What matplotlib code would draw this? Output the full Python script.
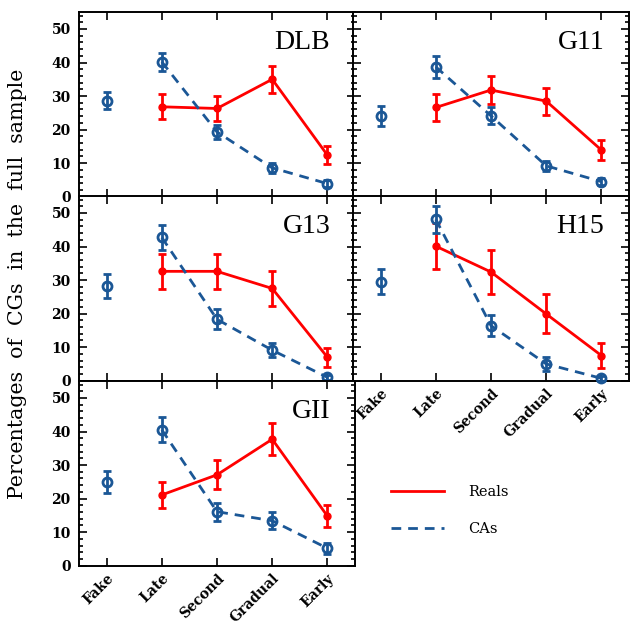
import matplotlib
matplotlib.use("Agg")
import matplotlib.pyplot as plt
from matplotlib.ticker import MultipleLocator
from matplotlib.lines import Line2D

categories = ["Fake", "Late", "Second", "Gradual", "Early"]
panels = ["DLB", "G11", "G13", "H15", "GII"]

# Reals: no Fake value (Late..Early)
reals = {
    "DLB": [26.8, 26.3, 35.0, 12.4],
    "G11": [26.6, 31.8, 28.5, 13.9],
    "G13": [32.6, 32.6, 27.5, 7.0],
    "H15": [40.1, 32.4, 19.9, 7.5],
    "GII": [21.1, 27.1, 37.7, 14.8],
}
reals_err = {
    "DLB": [3.7, 3.7, 4.0, 2.7],
    "G11": [4.0, 4.1, 4.0, 3.1],
    "G13": [5.3, 5.3, 5.2, 2.8],
    "H15": [6.9, 6.7, 5.8, 3.8],
    "GII": [3.9, 4.3, 4.7, 3.3],
}
# CAs: Fake..Early
cas = {
    "DLB": [28.6, 40.2, 19.3, 8.6, 3.9],
    "G11": [24.1, 38.7, 24.1, 9.2, 4.5],
    "G13": [28.3, 42.7, 18.3, 9.1, 1.0],
    "H15": [29.5, 48.1, 16.4, 5.0, 0.7],
    "GII": [24.9, 40.5, 16.1, 13.4, 5.2],
}
cas_err = {
    "DLB": [2.6, 2.7, 2.0, 1.5, 1.0],
    "G11": [2.9, 3.2, 2.5, 1.5, 1.0],
    "G13": [3.5, 3.8, 3.0, 2.0, 0.8],
    "H15": [3.8, 4.1, 3.1, 2.0, 0.8],
    "GII": [3.2, 3.7, 2.7, 2.5, 1.7],
}

RED = "#ff0000"
BLUE = "#1b5796"
serif = ["DejaVu Serif"]

fig = plt.figure(figsize=(6.34, 6.26), dpi=100)

W = 276 / 634.0
H = 184.5 / 626.0
x0 = 79 / 634.0
x1 = 353 / 634.0
bottoms = [1 - 196.7 / 626.0, 1 - 380.7 / 626.0, 1 - 565.7 / 626.0]
positions = {
    "DLB": (x0, bottoms[0]), "G11": (x1, bottoms[0]),
    "G13": (x0, bottoms[1]), "H15": (x1, bottoms[1]),
    "GII": (x0, bottoms[2]),
}

xs = list(range(len(categories)))

for name in panels:
    left, bottom = positions[name]
    ax = fig.add_axes([left, bottom, W, H])

    # reals
    ax.errorbar(xs[1:], reals[name], yerr=reals_err[name], color=RED, lw=2,
                elinewidth=2, capsize=2.8, capthick=2, marker="o", ms=5,
                mfc=RED, mec=RED, clip_on=False, zorder=3)
    # CAs
    ax.errorbar(xs, cas[name], yerr=cas_err[name], fmt="none", ecolor=BLUE,
                elinewidth=2, capsize=2.8, capthick=2, clip_on=False, zorder=4)
    ax.plot(xs[1:], cas[name][1:], color=BLUE, lw=2, dashes=(3.5, 2.5),
            clip_on=False, zorder=4)
    ax.plot(xs, cas[name], ls="none", marker="o", ms=6.5, mfc="none",
            mec=BLUE, mew=2, clip_on=False, zorder=5)

    ax.set_xlim(-0.5, 4.5)
    ax.set_ylim(0, 55)
    ax.yaxis.set_major_locator(MultipleLocator(10))
    ax.yaxis.set_minor_locator(MultipleLocator(2))
    ax.set_xticks(xs)
    ax.tick_params(which="both", direction="in", top=True, right=True,
                   colors="black", width=1.2)
    ax.tick_params(which="major", length=6, pad=6)
    ax.tick_params(which="minor", length=3)
    for sp in ax.spines.values():
        sp.set_linewidth(1.4)

    if name in ("H15", "GII"):
        ax.set_xticklabels(categories, rotation=45, ha="right", va="top",
                           rotation_mode="anchor", family=serif,
                           fontsize=10, fontweight="bold")
        ax.tick_params(axis="x", pad=4)
    else:
        ax.set_xticklabels([])
    if name in ("G11", "H15"):
        ax.set_yticklabels([])
    else:
        for lab in ax.get_yticklabels():
            lab.set_family(serif)
            lab.set_fontsize(10)
            lab.set_fontweight("bold")

    ax.text(0.91, 0.80, name, transform=ax.transAxes, ha="right",
            va="baseline", fontsize=20, family=["Liberation Serif"])

fig.text(0.028, 0.547, "Percentages  of  CGs  in  the  full  sample",
         rotation=90, ha="center", va="center", fontsize=14.8, family=serif)

handles = [Line2D([], [], color=RED, lw=2),
           Line2D([], [], color=BLUE, lw=2, dashes=(3.5, 2.5))]
fig.legend(handles, ["Reals", "CAs"], loc="upper left",
           bbox_to_anchor=(378 / 634.0, 1 - 472 / 626.0), frameon=False,
           handlelength=3.6, handletextpad=1.7, labelspacing=1.55,
           prop={"family": serif, "size": 10.5})

fig.savefig("out.png", dpi=100)
